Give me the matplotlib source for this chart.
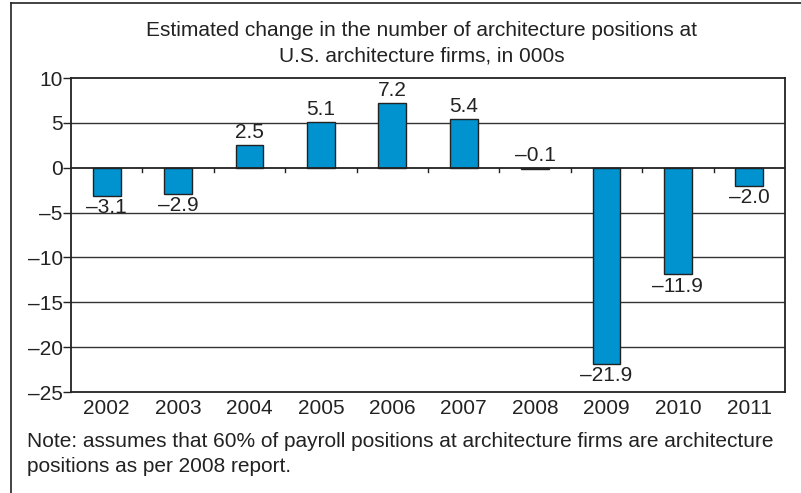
import matplotlib
matplotlib.use("Agg")
import matplotlib.pyplot as plt
from matplotlib.lines import Line2D
import numpy as np

plt.rcParams['font.family'] = ['Liberation Sans', 'DejaVu Sans']

years = ["2002", "2003", "2004", "2005", "2006", "2007", "2008", "2009", "2010", "2011"]
change = [-3.1, -2.9, 2.5, 5.1, 7.2, 5.4, -0.1, -21.9, -11.9, -2.0]
y_ticks = [10, 5, 0, -5, -10, -15, -20, -25]

title = "Estimated change in the number of architecture positions at\nU.S. architecture firms, in 000s"
note = ("Note: assumes that 60% of payroll positions at architecture firms are architecture\n"
        "positions as per 2008 report.")

FS = 15

def dash(v, fmt="{:.0f}"):
    s = fmt.format(abs(v))
    return ("\u2013" + s) if v < 0 else s

fig = plt.figure(figsize=(8.01, 4.93), dpi=100)
W, H = 801, 493
ax = fig.add_axes([71 / W, 1 - 392 / H, (785 - 71) / W, (392 - 78) / H])

x = np.arange(len(years))
ax.bar(x, change, width=0.39, color="#0093d0", edgecolor="#222222", linewidth=1.0, zorder=3)

ax.set_xlim(-0.5, len(years) - 0.5)
ax.set_ylim(-25, 10)
ax.set_yticks(y_ticks)
ax.set_yticklabels([dash(v) for v in y_ticks], fontsize=FS, color="#222222")
ax.tick_params(axis="y", length=6, width=1.0, color="#222222", pad=0)
ax.set_xticks([])

for v in y_ticks[1:-1]:
    if v != 0:
        ax.axhline(v, color="#333333", linewidth=1.0, zorder=1)
ax.axhline(0, color="#222222", linewidth=1.3, zorder=4)

# category separators hanging below the zero line
for b in np.arange(0.5, len(years) - 0.5, 1.0):
    ax.plot([b, b], [0, -0.5], color="#222222", linewidth=1.0, zorder=4, clip_on=False)

for side in ["left", "bottom", "top", "right"]:
    ax.spines[side].set_color("#222222")
    ax.spines[side].set_linewidth(1.3)

for xi, v in zip(x, change):
    if v >= 0:
        ax.text(xi, v + 0.35, dash(v, "{:.1f}"), ha="center", va="bottom", fontsize=FS, color="#222222")
    elif v > -1:
        ax.text(xi, 0.35, dash(v, "{:.1f}"), ha="center", va="bottom", fontsize=FS, color="#222222")
    else:
        ax.text(xi, v - 0.25, dash(v, "{:.1f}"), ha="center", va="top", fontsize=FS, color="#222222")

for xi, lab in zip(x, years):
    ax.text(xi, -25.8, lab, ha="center", va="top", fontsize=FS, color="#222222")

fig.text(422 / W, 1 - 43 / H, title, ha="center", va="center", fontsize=FS,
         color="#222222", linespacing=1.45)
fig.text(27 / W, 1 - 454 / H, note, ha="left", va="center", fontsize=FS,
         color="#222222", linespacing=1.45)

# outer frame: top and left rules
fig.add_artist(Line2D([11 / W, 1.0], [1 - 3 / H, 1 - 3 / H], color="#222222", linewidth=1.2))
fig.add_artist(Line2D([11 / W, 11 / W], [0.0, 1 - 3 / H], color="#222222", linewidth=1.2))

fig.savefig("out.png", dpi=100)
